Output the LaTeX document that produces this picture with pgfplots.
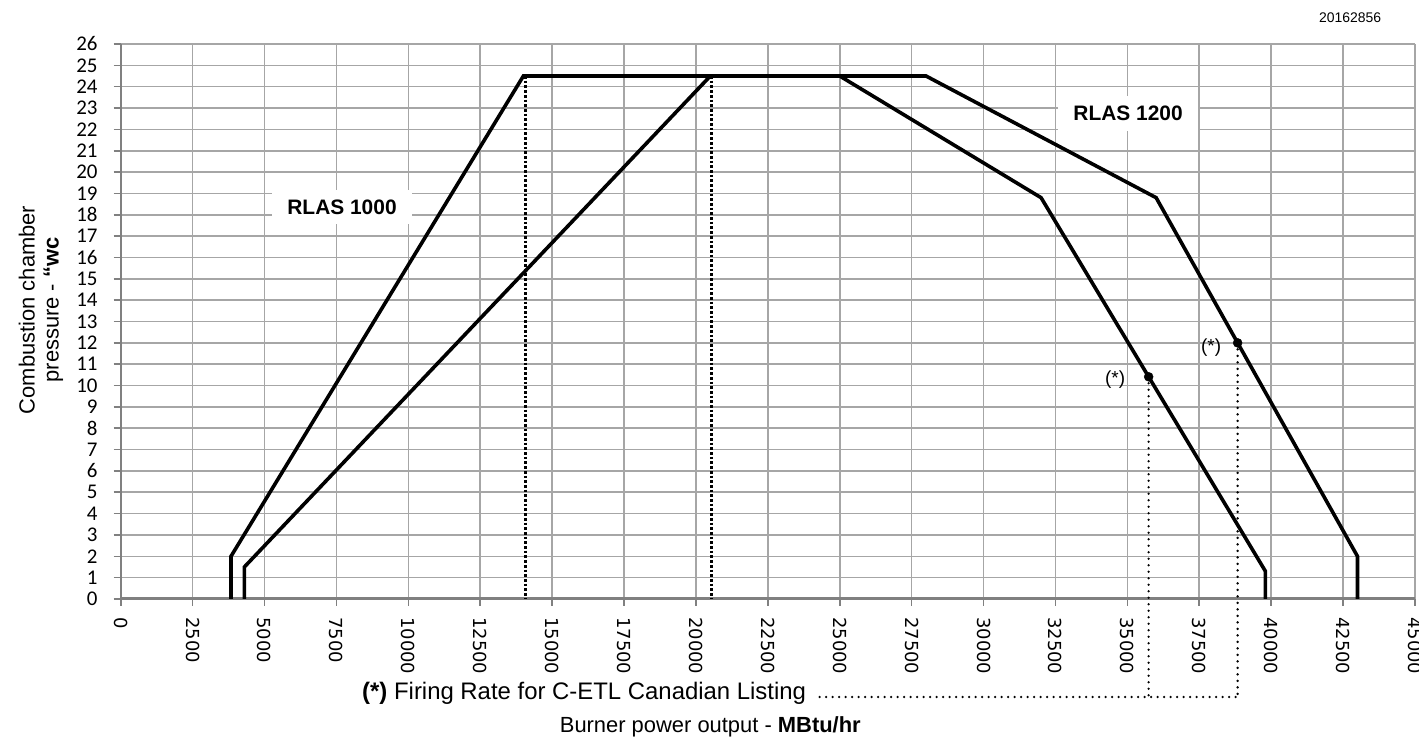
\documentclass[border=0pt]{standalone}
\usepackage{fontspec}
\setmainfont{Liberation Sans}
\newfontfamily\carlito{Carlito}
\newfontfamily\dejavu{DejaVu Sans}
\usepackage{pgfplots}
\pgfplotsset{compat=1.18}
\begin{document}
\begin{tikzpicture}
\path[use as bounding box] (0,0) rectangle (1419bp,748bp);
\begin{axis}[
  at={(120.7bp,149bp)}, anchor=south west,
  width=1294.3bp, height=555bp, scale only axis,
  xmin=0, xmax=45000, ymin=0, ymax=26,
  axis lines=left, axis line style={-},
  x axis line style={draw=gray, line width=3bp},
  y axis line style={draw=gray, line width=2bp},
  grid=major, major grid style={draw=gray!70, line width=1.6bp},
  tick align=outside, major tick length=7bp,
  tick style={draw=gray, line width=1.6bp},
  xtick={0,2500,...,45000}, ytick={0,1,...,26},
  scaled x ticks=false,
  /pgf/number format/assume math mode=true,
  /pgf/number format/1000 sep={},
  xticklabel style={font=\dejavu\fontsize{18}{18}\selectfont, rotate=-90, anchor=west, inner xsep=11bp},
  yticklabel style={font=\carlito\fontsize{21}{21}\selectfont, inner xsep=16bp},
  clip=false,
]
% RLAS 1000
\addplot[black, line width=3.6bp] coordinates {(3835,0) (3835,2) (14000,24.5) (25000,24.5) (32000,18.8) (39800,1.3) (39800,0)};
% RLAS 1200
\addplot[black, line width=3.6bp] coordinates {(4300,0) (4300,1.5) (20500,24.5) (28000,24.5) (36000,18.8) (43000,2) (43000,0)};
% vertical dotted lines at the top corners
\addplot[black, line width=2.7bp, dash pattern=on 2.7bp off 2bp] coordinates {(14080,24.5) (14080,0)};
\addplot[black, line width=2.7bp, dash pattern=on 2.7bp off 2bp] coordinates {(20550,24.5) (20550,0)};
% C-ETL dotted lines
\addplot[black, line width=2.6bp, line cap=round, dash pattern=on 0bp off 6.5bp] coordinates {(35740,10.41) (35740,-4.59)};
\addplot[black, line width=2.6bp, line cap=round, dash pattern=on 0bp off 6.5bp] coordinates {(38833,12) (38833,-4.59)};
\addplot[black, line width=2.6bp, line cap=round, dash pattern=on 0bp off 6.5bp] coordinates {(24300,-4.59) (38833,-4.59)};
\addplot[only marks, mark=*, mark size=4.5bp, black] coordinates {(35740,10.41) (38833,12)};
% labels
\node[fill=white, inner xsep=15bp, inner ysep=10bp, font=\bfseries\fontsize{21}{21}\selectfont] at (axis cs:7695,18.36) {RLAS 1000};
\node[fill=white, inner xsep=15bp, inner ysep=10bp, font=\bfseries\fontsize{21}{21}\selectfont] at (axis cs:35024,22.76) {RLAS 1200};
\node[font=\fontsize{19}{19}\selectfont] at (axis cs:34573,10.26) {(*)};
\node[font=\fontsize{19}{19}\selectfont] at (axis cs:37910,11.8) {(*)};
\node[font=\fontsize{14}{14}\selectfont] at (axis cs:42743,27.21) {20162856};
\node[anchor=west, inner sep=0pt, font=\fontsize{24}{24}\selectfont] at (axis cs:8390,-4.40) {\textbf{(*)} Firing Rate for C-ETL Canadian Listing};
\node[font=\fontsize{22}{22}\selectfont] at (axis cs:20500,-6.0) {Burner power output - \textbf{MBtu/hr}};
\node[rotate=90, align=center, font=\fontsize{22}{24}\selectfont] at (axis cs:-2771,13.54) {Combustion chamber\\pressure - \textbf{“wc}};
\end{axis}
\end{tikzpicture}
\end{document}
